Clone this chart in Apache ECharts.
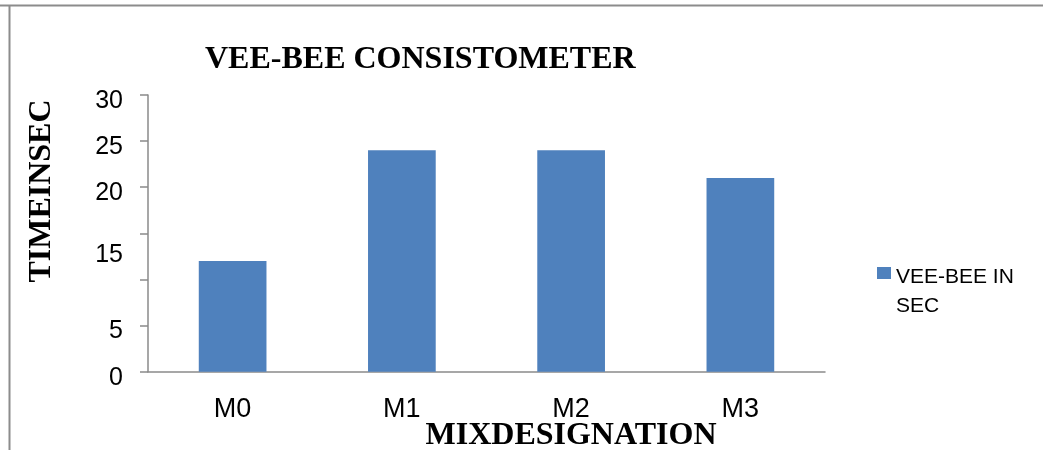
<!DOCTYPE html>
<html>
<head>
<meta charset="utf-8">
<script src="https://cdn.jsdelivr.net/npm/echarts@6/dist/echarts.min.js"></script>
<style>
html,body{margin:0;padding:0;background:#fff;}
#chart{width:1043px;height:450px;}
</style>
</head>
<body>
<div id="chart"></div>
<script>
// Data
var categories = ['M0', 'M1', 'M2', 'M3'];
var seriesName = 'VEE-BEE IN SEC';
var values = [12, 24, 24, 21];
// tick labels as printed on the original (10 is unlabelled, 15 sits low)
var yTickLabels = {0: '0', 5: '5', 10: '', 15: '15', 20: '20', 25: '25', 30: '30'};
var titleText = 'VEE-BEE CONSISTOMETER';
var yAxisTitle = 'TIMEINSEC';
var xAxisTitle = 'MIXDESIGNATION';

var chart = echarts.init(document.getElementById('chart'));
var axisGray = '#8a8a8a';
var option = {
  backgroundColor: '#fff',
  animation: false,
  title: {
    text: titleText,
    left: 205,
    top: 44,
    padding: 0,
    textStyle: {fontFamily: 'Liberation Serif', fontWeight: 'bold', fontSize: 32, color: '#000'}
  },
  legend: {
    data: [seriesName],
    left: 877,
    top: 239,
    padding: 0,
    itemWidth: 14,
    itemHeight: 12,
    icon: 'rect',
    formatter: function () { return '{s| }\n{a|VEE-BEE IN}\n{a|SEC}'; },
    textStyle: {
      fontFamily: 'Liberation Sans', fontSize: 21, color: '#000',
      rich: {
        s: {fontSize: 10, lineHeight: 37},
        a: {fontFamily: 'Liberation Sans', fontSize: 21, lineHeight: 29, color: '#000'}
      }
    }
  },
  grid: {left: 148, right: 218, top: 95, bottom: 78.3, containLabel: false},
  xAxis: {
    type: 'category',
    data: categories,
    axisLine: {lineStyle: {color: axisGray, width: 1.5}},
    axisTick: {show: false},
    axisLabel: {fontFamily: 'Liberation Sans', fontSize: 27, lineHeight: 27, color: '#000', margin: 24}
  },
  yAxis: {
    type: 'value',
    min: 0, max: 30, interval: 5,
    splitLine: {show: false},
    axisLine: {show: true, lineStyle: {color: axisGray, width: 1.5}},
    axisTick: {show: true, length: 8, lineStyle: {color: axisGray, width: 1.5}},
    axisLabel: {
      margin: 25,
      color: '#000',
      fontFamily: 'Liberation Sans',
      fontSize: 25,
      formatter: function (v) {
        var t = yTickLabels[v];
        if (!t) return '';
        return v === 15 ? '{b|' + t + '}' : '{a|' + t + '}';
      },
      rich: {
        a: {fontFamily: 'Liberation Sans', fontSize: 25, color: '#000', padding: [12, 0, 0, 0]},
        b: {fontFamily: 'Liberation Sans', fontSize: 25, color: '#000', padding: [43, 0, 0, 0]}
      }
    }
  },
  series: [{
    name: seriesName,
    type: 'bar',
    data: values,
    barWidth: '40%',
    itemStyle: {color: '#4F81BD'}
  }],
  graphic: [
    {type: 'line', shape: {x1: 0, y1: 5.5, x2: 1043, y2: 5.5}, style: {stroke: '#8c8c8c', lineWidth: 2}, silent: true},
    {type: 'line', shape: {x1: 9.5, y1: 5, x2: 9.5, y2: 450}, style: {stroke: '#8c8c8c', lineWidth: 2}, silent: true},
    {type: 'text', x: 42, y: 191, rotation: Math.PI / 2,
     style: {text: yAxisTitle, fontFamily: 'Liberation Serif', fontWeight: 'bold', fontSize: 32, fill: '#000', align: 'center', verticalAlign: 'middle'}},
    {type: 'text', x: 571, y: 436,
     style: {text: xAxisTitle, fontFamily: 'Liberation Serif', fontWeight: 'bold', fontSize: 32, fill: '#000', align: 'center', verticalAlign: 'middle'}}
  ]
};
chart.setOption(option);
</script>
</body>
</html>
